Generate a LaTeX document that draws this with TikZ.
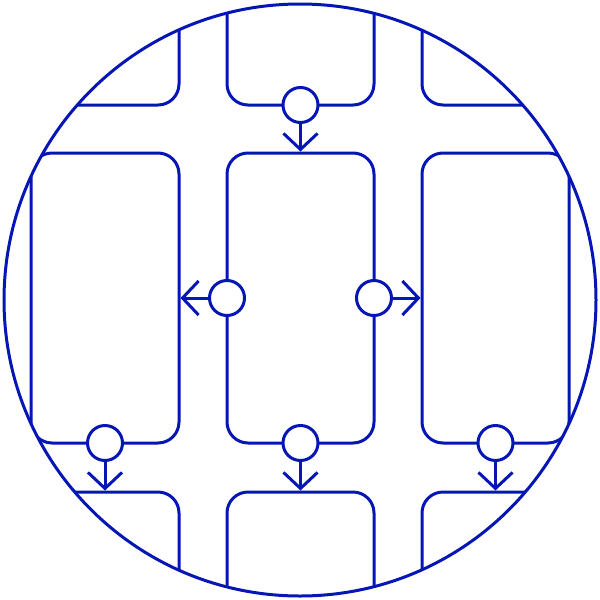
\documentclass[tikz,border=0pt]{standalone}
\usetikzlibrary{arrows.meta}
\definecolor{mainblue}{RGB}{5,22,180}
\tikzset{
  lw/.style={line width=3pt, draw=mainblue},
  block/.style={lw, rectangle, rounded corners=21pt, inner sep=0pt},
  port/.style={lw, circle, fill=white, minimum size=35pt, inner sep=0pt},
  flow/.style={lw, -{Straight Barb[length=16pt,width=34pt,line cap=butt,line join=miter]}}
}
\begin{document}
\begin{tikzpicture}[x=1pt,y=-1pt]
\useasboundingbox (0,0) rectangle (600,600);
\begin{scope}
\clip (300,300) circle (296);
% top row
\node[block, minimum width=279pt, minimum height=205pt] (bTL) at (39.5,2.5) {};
\node[block, minimum width=147pt, minimum height=205pt] (bTM) at (300.5,2.5) {};
\node[block, minimum width=278pt, minimum height=205pt] (bTR) at (561,2.5) {};
% middle row
\node[block, minimum width=148pt, minimum height=290pt] (bML) at (105,298) {};
\node[block, minimum width=147pt, minimum height=290pt] (bMM) at (300.5,298) {};
\node[block, minimum width=147pt, minimum height=290pt] (bMR) at (495.5,298) {};
% bottom row
\node[block, minimum width=279pt, minimum height=208pt] (bBL) at (39.5,596) {};
\node[block, minimum width=147pt, minimum height=208pt] (bBM) at (300.5,596) {};
\node[block, minimum width=278pt, minimum height=208pt] (bBR) at (561,596) {};
% ports
\node[port] (pT) at (300.5,105) {};
\node[port] (pL) at (227,298) {};
\node[port] (pR) at (374,298) {};
\node[port] (pB1) at (105,443) {};
\node[port] (pB2) at (300.5,443) {};
\node[port] (pB3) at (495.5,443) {};
% arrows
\draw[flow] (pT.south) -- (pT |- bMM.north);
\draw[flow] (pL.west) -- (bML.east |- pL);
\draw[flow] (pR.east) -- (bMR.west |- pR);
\draw[flow] (pB1.south) -- (pB1 |- bBL.north);
\draw[flow] (pB2.south) -- (pB2 |- bBM.north);
\draw[flow] (pB3.south) -- (pB3 |- bBR.north);
\end{scope}
\draw[lw] (300,300) circle (296);
\end{tikzpicture}
\end{document}
